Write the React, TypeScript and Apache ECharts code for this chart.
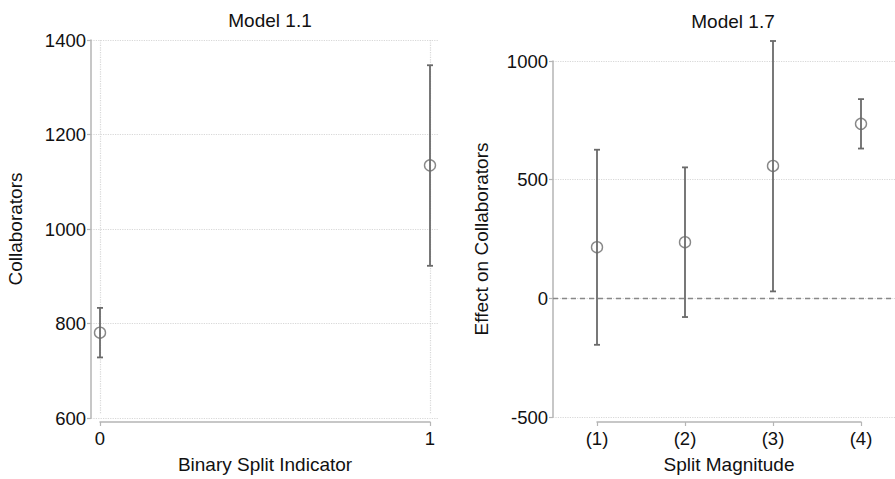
import React, { useEffect, useRef } from "react";
import * as echarts from "echarts";

// Model 1.1
const leftTicks = ["0", "1"];
const leftX = [0, 1];
const leftEst = [774, 1132];
const leftLo = [721, 917];
const leftHi = [827, 1346];

// Model 1.7
const rightTicks = ["(1)", "(2)", "(3)", "(4)"];
const rightX = [1, 2, 3, 4];
const rightEst = [209, 230, 554, 733];
const rightLo = [-206, -88, 21, 628];
const rightHi = [623, 548, 1085, 838];

const FONT = "'Liberation Sans', Arial, Helvetica, sans-serif";
const TXT = "#111";
const AXIS = "#b5b5b5";
const BAR = "#6a6a6a";
const GRIDC = "#d8d8d8";

function errRender(params: any, api: any) {
  const x = api.value(0);
  const lo = api.value(1);
  const hi = api.value(2);
  const pLo = api.coord([x, lo]);
  const pHi = api.coord([x, hi]);
  const cap = 3;
  const style = { stroke: BAR, lineWidth: 1.8 };
  return {
    type: "group",
    children: [
      { type: "line", shape: { x1: pLo[0], y1: pLo[1], x2: pHi[0], y2: pHi[1] }, style },
      { type: "line", shape: { x1: pLo[0] - cap, y1: pLo[1], x2: pLo[0] + cap, y2: pLo[1] }, style },
      { type: "line", shape: { x1: pHi[0] - cap, y1: pHi[1], x2: pHi[0] + cap, y2: pHi[1] }, style },
    ],
  };
}

export default function App() {
  const ref = useRef<HTMLDivElement>(null);
  useEffect(() => {
    document.body.style.margin = "0";
    if (!ref.current) return;
    const chart = echarts.init(ref.current, undefined, { renderer: "svg" });
    const textStyle = { color: TXT, fontSize: 19, fontFamily: FONT };
    const tickStyle = { color: TXT, fontSize: 18.5, fontFamily: FONT };
    const yAxisBase = (min: number, max: number, interval: number, name: string, gap: number, grid: number) => ({
      type: "value",
      gridIndex: grid,
      min,
      max,
      interval,
      name,
      nameLocation: "middle",
      nameGap: gap,
      nameTextStyle: textStyle,
      axisLine: { show: true, lineStyle: { color: AXIS, width: 1.5 } },
      axisTick: { show: true, length: 4, lineStyle: { color: AXIS, width: 1.2 } },
      axisLabel: { ...tickStyle, margin: 5, formatter: (v: number) => String(v) },
      splitLine: { show: true, lineStyle: { color: GRIDC, type: "dotted", width: 1.2 } },
    });
    const hiddenY = (min: number, max: number, grid: number) => ({
      type: "value",
      gridIndex: grid,
      min,
      max,
      show: false,
    });
    const hiddenX = (grid: number) => ({ type: "value", gridIndex: grid, min: 0, max: 1, show: false });
    const visX = (min: number, max: number, ticks: string[], name: string, grid: number, split: boolean) => ({
      type: "value",
      gridIndex: grid,
      min,
      max,
      interval: 1,
      offset: 8,
      name,
      nameLocation: "middle",
      nameGap: 33,
      nameTextStyle: textStyle,
      axisLine: { show: true, onZero: false, lineStyle: { color: AXIS, width: 1.5 } },
      axisTick: { show: true, length: 4, lineStyle: { color: AXIS, width: 1.2 } },
      axisLabel: {
        ...tickStyle,
        margin: 7,
        formatter: (v: number) => ticks[Math.round(v - min)] ?? "",
      },
      splitLine: { show: split, lineStyle: { color: GRIDC, type: "dotted", width: 1.2 } },
    });

    chart.setOption({
      animation: false,
      backgroundColor: "#fff",
      title: [
        { text: "Model 1.1", left: 265, top: 6, textAlign: "center", textStyle: { ...textStyle, fontWeight: "normal" } },
        { text: "Model 1.7", left: 728, top: 7, textAlign: "center", textStyle: { ...textStyle, fontWeight: "normal" } },
      ],
      grid: [
        { left: 91, top: 40, width: 347, height: 378 },
        { left: 100, top: 40, width: 330, height: 378 },
        { left: 553, top: 61, width: 342, height: 356 },
        { left: 597, top: 61, width: 264, height: 356 },
      ],
      xAxis: [
        hiddenX(0),
        visX(0, 1, leftTicks, "Binary Split Indicator", 1, true),
        hiddenX(2),
        visX(1, 4, rightTicks, "Split Magnitude", 3, false),
      ],
      yAxis: [
        yAxisBase(600, 1400, 200, "Collaborators", 66, 0),
        hiddenY(600, 1400, 1),
        yAxisBase(-500, 1000, 500, "Effect on Collaborators", 62, 2),
        hiddenY(-500, 1000, 3),
      ],
      series: [
        {
          type: "line",
          xAxisIndex: 2,
          yAxisIndex: 2,
          data: [],
          markLine: {
            silent: true,
            symbol: "none",
            label: { show: false },
            lineStyle: { color: "#888", type: [5, 4], width: 1.3 },
            data: [{ yAxis: 0 }],
          },
        },
        {
          type: "custom",
          xAxisIndex: 1,
          yAxisIndex: 1,
          renderItem: errRender,
          clip: false,
          data: leftX.map((x, i) => [x, leftLo[i], leftHi[i]]),
          z: 3,
        },
        {
          type: "scatter",
          xAxisIndex: 1,
          yAxisIndex: 1,
          symbol: "circle",
          symbolSize: 11,
          itemStyle: { color: "rgba(255,255,255,0)", borderColor: BAR, borderWidth: 1.4 },
          data: leftX.map((x, i) => [x, leftEst[i]]),
          z: 4,
        },
        {
          type: "custom",
          xAxisIndex: 3,
          yAxisIndex: 3,
          renderItem: errRender,
          clip: false,
          data: rightX.map((x, i) => [x, rightLo[i], rightHi[i]]),
          z: 3,
        },
        {
          type: "scatter",
          xAxisIndex: 3,
          yAxisIndex: 3,
          symbol: "circle",
          symbolSize: 11,
          itemStyle: { color: "rgba(255,255,255,0)", borderColor: BAR, borderWidth: 1.4 },
          data: rightX.map((x, i) => [x, rightEst[i]]),
          z: 4,
        },
      ],
    });
    return () => chart.dispose();
  }, []);
  return <div ref={ref} style={{ width: 895, height: 479 }} />;
}
